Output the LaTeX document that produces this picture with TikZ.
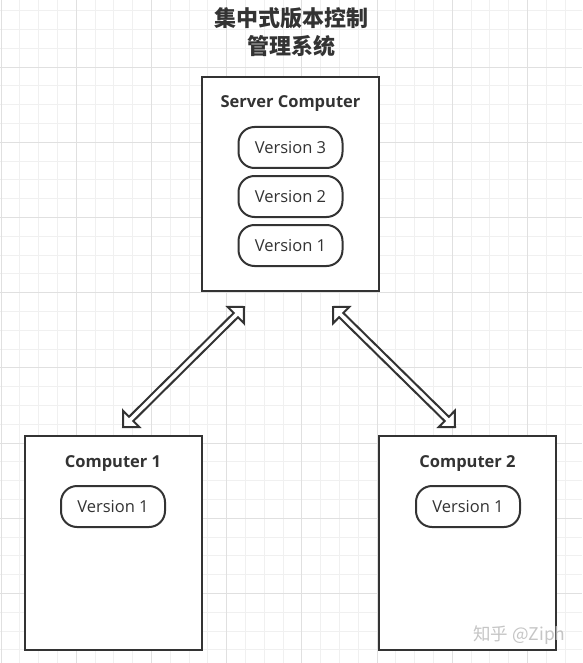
\documentclass[tikz,border=0pt]{standalone}
\usepackage{fontspec}
\setmainfont{Open Sans}
\newfontfamily\cjk{Noto Sans CJK SC}
\usetikzlibrary{calc}
\definecolor{ink}{HTML}{333333}
\definecolor{gridminor}{HTML}{F0F0F0}
\definecolor{gridmajor}{HTML}{E0E0E0}
\definecolor{wmark}{HTML}{BBBBBB}
\tikzset{
  gminor/.style={draw=gridminor, line width=0.9pt},
  gmajor/.style={draw=gridmajor, line width=0.9pt},
  box/.style={draw=ink, line width=2pt, fill=white, rectangle, inner sep=0pt, minimum width=177pt, minimum height=214pt},
  boxtitle/.style={anchor=base, text=ink, font=\fontsize{16.5}{19}\selectfont\bfseries, inner sep=0pt},
  pill/.style={draw=ink, line width=2pt, fill=white, rounded corners=16pt, inner sep=0pt, minimum width=104pt, minimum height=41pt, text=ink, font=\fontsize{16.5}{19}\selectfont},
  flexarr/.style={draw=ink, line width=2pt, fill=white, line join=miter},
  maintitle/.style={text=ink, font=\cjk\fontsize{22}{28}\selectfont\bfseries, align=center, inner sep=0pt},
  watermark/.style={text=wmark, opacity=0.85, font=\cjk\fontsize{17.5}{20}\selectfont, inner sep=0pt}
}
\newcommand\flexarrow[2]{%
  \draw[flexarr] (#1)
    -- ($(#1)!11.5pt!(#2)!11.5pt!90:(#2)$)
    -- ($(#1)!11.5pt!(#2)!3pt!90:(#2)$)
    -- ($(#2)!11.5pt!(#1)!3pt!-90:(#1)$)
    -- ($(#2)!11.5pt!(#1)!11.5pt!-90:(#1)$)
    -- (#2)
    -- ($(#2)!11.5pt!(#1)!11.5pt!90:(#1)$)
    -- ($(#2)!11.5pt!(#1)!3pt!90:(#1)$)
    -- ($(#1)!11.5pt!(#2)!3pt!-90:(#2)$)
    -- ($(#1)!11.5pt!(#2)!11.5pt!-90:(#2)$)
    -- cycle;}
\begin{document}
\begin{tikzpicture}[x=1pt,y=-1pt]
\useasboundingbox (0,0) rectangle (582,663);
\fill[white] (0,0) rectangle (582,663);
% grid
\foreach \k in {0,...,30} \draw[gminor] ({1+18.8*\k},0) -- ({1+18.8*\k},663);
\foreach \k in {0,...,34} \draw[gminor] (0,{10.6+18.8*\k}) -- (582,{10.6+18.8*\k});
\foreach \k in {0,...,7} \draw[gmajor] ({1+75.2*\k},0) -- ({1+75.2*\k},663);
\foreach \k in {0,...,7} \draw[gmajor] (0,{67+75.2*\k}) -- (582,{67+75.2*\k});
% title
\node[maintitle] (title) at (291,32) {集中式版本控制\\管理系统};
% boxes
\node[box] (server) at (290.5,184) {};
\node[box] (c1) at (113,543) {};
\node[box] (c2) at (467.5,543) {};
\node[boxtitle] (st) at ($(server.north)+(0,32)$) {Server Computer};
\node[boxtitle] (c1t) at ($(c1.north)+(0,32)$) {Computer 1};
\node[boxtitle] (c2t) at ($(c2.north)+(0,32)$) {Computer 2};
\node[pill] (sv3) at ($(server.north)+(0,71.5)$) {Version 3};
\node[pill] (sv2) at ($(server.north)+(0,120.5)$) {Version 2};
\node[pill] (sv1) at ($(server.north)+(0,169.5)$) {Version 1};
\node[pill] (c1v1) at ($(c1.north)+(0,71.5)$) {Version 1};
\node[pill] (c2v1) at ($(c2.north)+(0.5,71.5)$) {Version 1};
% arrows
\coordinate (a1) at ($(server.south)+(-46.5,15)$);
\coordinate (b1) at ($(c1.north)+(10,-8)$);
\coordinate (a2) at ($(server.south)+(42.5,15)$);
\coordinate (b2) at ($(c2.north)+(-12.5,-8)$);
\flexarrow{a1}{b1}
\flexarrow{a2}{b2}
% watermark
\node[watermark, anchor=west] (wm) at (473,635) {知乎 @Ziph};
\end{tikzpicture}
\end{document}
